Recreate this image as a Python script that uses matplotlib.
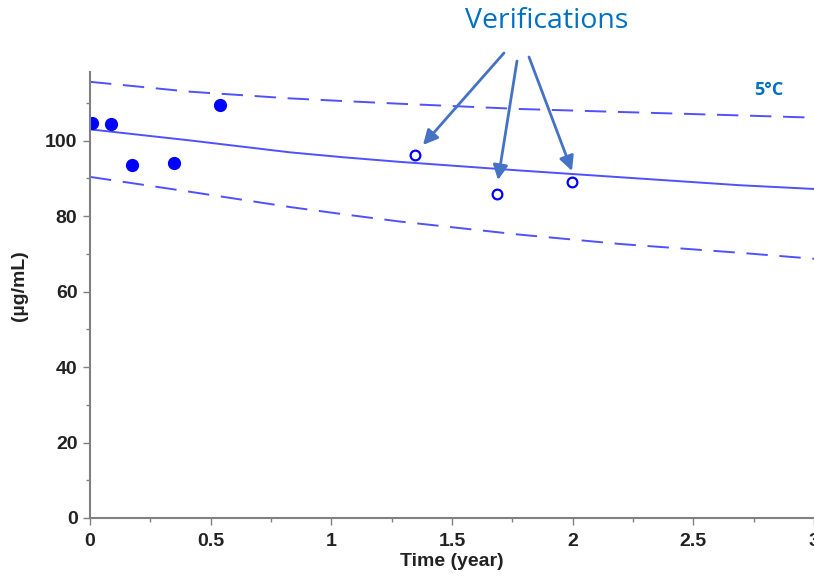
import numpy as np
import matplotlib.pyplot as plt
from matplotlib.ticker import MultipleLocator

# Mediciones de estabilidad a 5°C
t_estudio = [0.007, 0.089, 0.176, 0.35, 0.537]
c_estudio = [104.7, 104.4, 93.5, 94.0, 109.4]

# Puntos de verificación
t_verif = [1.345, 1.685, 1.996]
c_verif = [96.3, 85.9, 89.1]

# Curva de regresión y límites de predicción
t_curva = [0.0, 0.41, 0.83, 1.05, 1.28, 1.78, 2.2, 2.69, 3.0]
c_regresion = [103.0, 100.1, 96.9, 95.6, 94.4, 92.1, 90.3, 88.2, 87.2]
c_superior = [115.6, 113.0, 111.2, 110.5, 109.8, 108.4, 107.6, 106.7, 106.1]
c_inferior = [90.4, 86.5, 82.4, 80.5, 78.6, 75.1, 72.6, 70.3, 68.7]

azul_linea = '#5050ff'
azul_texto = '#0070c0'
azul_flecha = '#4472c4'
fuente_ejes = ['Liberation Sans Narrow', 'Liberation Sans']

fig = plt.figure(figsize=(8.14, 5.77), dpi=100)
ax = fig.add_axes([90 / 814, 59 / 577, 724 / 814, 446 / 577])

ax.plot(t_curva, c_regresion, color=azul_linea, lw=1.4)
ax.plot(t_curva, c_superior, color=azul_linea, lw=1.4, dashes=(11, 6))
ax.plot(t_curva, c_inferior, color=azul_linea, lw=1.4, dashes=(11, 6))
ax.plot(t_estudio, c_estudio, 'o', color='#0000ff', ms=8.5, mec='#0000ff')
ax.plot(t_verif, c_verif, 'o', mfc='white', mec='#0000ff', mew=1.6, ms=7)

ax.set_xlim(0, 3.0)
ax.set_ylim(0, 118.2)
ax.xaxis.set_minor_locator(MultipleLocator(0.25))
ax.yaxis.set_major_locator(MultipleLocator(20))
ax.yaxis.set_minor_locator(MultipleLocator(10))
ax.set_xticks(np.arange(0, 3.01, 0.5))
ax.set_xticklabels(['0', '0.5', '1', '1.5', '2', '2.5', '3'])

for lado in ['top', 'right']:
    ax.spines[lado].set_visible(False)
for lado in ['left', 'bottom']:
    ax.spines[lado].set_color('#808080')
    ax.spines[lado].set_linewidth(1.5)

ax.tick_params(which='major', length=5, width=1, color='#808080', labelsize=14)
ax.tick_params(axis='x', which='major', pad=6)
ax.tick_params(axis='y', which='major', pad=4)
ax.tick_params(which='minor', length=3, width=1, color='#808080')
for lab in ax.get_xticklabels() + ax.get_yticklabels():
    lab.set_fontweight('bold')
    lab.set_color('#222222')
    lab.set_family(fuente_ejes)

ax.set_xlabel('Time (year)', fontsize=14, fontweight='bold', family=fuente_ejes,
              color='#222222', labelpad=2)
ax.set_ylabel('(µg/mL)', fontsize=14, fontweight='bold', family=fuente_ejes,
              color='#222222')
ax.yaxis.set_label_coords(-0.086, 0.52)

# Anotaciones
fig.text(547 / 814, 1 - 21 / 577, 'Verifications', fontsize=20.5, color=azul_texto,
         ha='center', va='center', family='Open Sans')
fig.text(769 / 814, 1 - 90 / 577, '5°C', fontsize=13, color=azul_texto,
         ha='center', va='center', fontweight='bold', family='Open Sans')

flechas = [((504, 53), (423, 145)), ((517, 61), (498, 180)), ((529, 57), (572, 171))]
for (x0, y0), (x1, y1) in flechas:
    ax.annotate('', xy=(x1 / 814, 1 - y1 / 577), xycoords='figure fraction',
                xytext=(x0 / 814, 1 - y0 / 577), textcoords='figure fraction',
                arrowprops=dict(arrowstyle='-|>', color=azul_flecha, lw=2,
                                mutation_scale=22, shrinkA=0, shrinkB=0),
                annotation_clip=False)

fig.savefig('out.png', dpi=100)
